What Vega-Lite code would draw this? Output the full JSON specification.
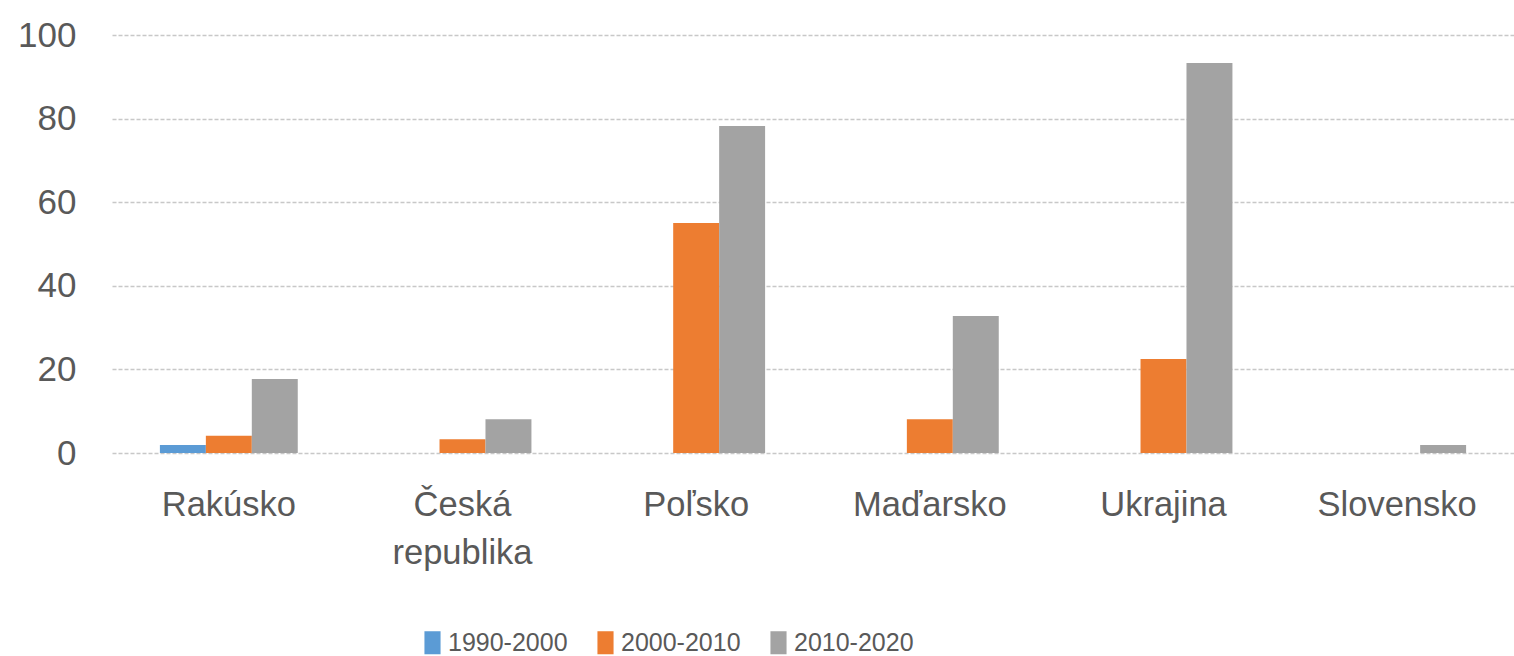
{
  "$schema": "https://vega.github.io/schema/vega-lite/v6.json",
  "width": 1402,
  "height": 418,
  "autosize": {"type": "none"},
  "padding": {"left": 112, "top": 35, "right": 0, "bottom": 203},
  "background": "white",
  "config": {
    "view": {"stroke": null},
    "font": "Liberation Sans"
  },
  "data": {
    "values": [
      {"country": "Rakúsko", "period": "1990-2000", "value": 1.9},
      {"country": "Rakúsko", "period": "2000-2010", "value": 4.1},
      {"country": "Rakúsko", "period": "2010-2020", "value": 17.7},
      {"country": "Česká republika", "period": "2000-2010", "value": 3.3},
      {"country": "Česká republika", "period": "2010-2020", "value": 8.1},
      {"country": "Poľsko", "period": "2000-2010", "value": 55.0},
      {"country": "Poľsko", "period": "2010-2020", "value": 78.2},
      {"country": "Maďarsko", "period": "2000-2010", "value": 8.1},
      {"country": "Maďarsko", "period": "2010-2020", "value": 32.8},
      {"country": "Ukrajina", "period": "2000-2010", "value": 22.5},
      {"country": "Ukrajina", "period": "2010-2020", "value": 93.3},
      {"country": "Slovensko", "period": "2010-2020", "value": 1.9}
    ]
  },
  "mark": {"type": "bar"},
  "encoding": {
    "x": {
      "field": "country",
      "type": "nominal",
      "sort": ["Rakúsko", "Česká republika", "Poľsko", "Maďarsko", "Ukrajina", "Slovensko"],
      "scale": {"paddingInner": 0.41, "paddingOuter": 0.205},
      "axis": {
        "title": null,
        "domain": false,
        "ticks": false,
        "labelAngle": 0,
        "labelFontSize": 34.5,
        "labelColor": "#595959",
        "labelPadding": 35,
        "labelBaseline": "top",
        "labelLineHeight": 48,
        "labelExpr": "split(datum.label, ' ')"
      }
    },
    "xOffset": {
      "field": "period",
      "type": "nominal",
      "scale": {"domain": ["1990-2000", "2000-2010", "2010-2020"], "paddingInner": 0, "paddingOuter": 0}
    },
    "y": {
      "field": "value",
      "type": "quantitative",
      "scale": {"domain": [0, 100], "nice": false},
      "axis": {
        "title": null,
        "values": [0, 20, 40, 60, 80, 100],
        "domain": false,
        "ticks": false,
        "labelFontSize": 35,
        "labelColor": "#595959",
        "labelPadding": 36,
        "gridColor": "#C8C8C8",
        "gridDash": [4, 2],
        "gridWidth": 1.5
      }
    },
    "color": {
      "field": "period",
      "type": "nominal",
      "scale": {"domain": ["1990-2000", "2000-2010", "2010-2020"], "range": ["#5B9BD5", "#ED7D31", "#A3A3A3"]},
      "legend": {
        "title": null,
        "orient": "none",
        "direction": "horizontal",
        "columns": 3,
        "legendX": 308,
        "legendY": 595,
        "symbolType": "M -0.7 -1 H 0.7 V 1 H -0.7 Z",
        "symbolSize": 530,
        "symbolStrokeWidth": 0,
        "symbolOpacity": 1,
        "labelFontSize": 25,
        "labelColor": "#595959",
        "labelOffset": 3,
        "columnPadding": 25
      }
    }
  }
}
